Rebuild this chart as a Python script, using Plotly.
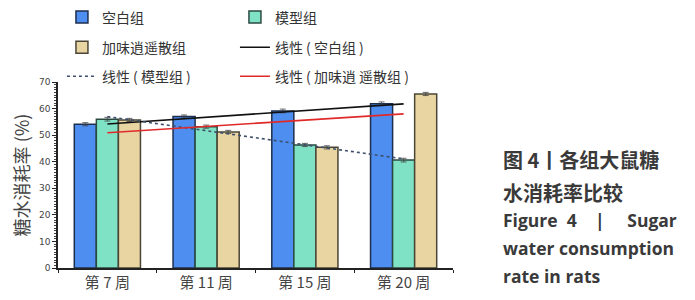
import numpy as np
import plotly.graph_objects as go

categories = ["第 7 周", "第 11 周", "第 15 周", "第 20 周"]
blank = [54.1, 57.0, 59.1, 61.8]
model = [56.0, 53.2, 46.3, 40.6]
herb = [55.7, 51.2, 45.4, 65.5]
blank_err = [0.6, 0.6, 0.7, 0.7]
model_err = [0.7, 0.6, 0.6, 0.7]
herb_err = [0.6, 0.6, 0.6, 0.6]

names = ["空白组", "模型组", "加味逍遥散组"]
trend_names = ["线性 ( 空白组 )", "线性 ( 模型组 )", "线性 ( 加味逍 遥散组 )"]
y_ticks = [0, 10, 20, 30, 40, 50, 60, 70]

NB = "\u00a0"
caption_lines = ["图 4丨各组大鼠糖", "水消耗率比较",
                 "Figure" + NB * 2 + "4" + NB * 4 + "|" + NB * 5 + "Sugar",
                 "water consumption", "rate in rats"]

CJK = "Noto Sans CJK SC, Noto Sans, sans-serif"
EN = "Open Sans, Noto Sans, sans-serif"

def trend(vals):
    xs = np.arange(1, len(vals) + 1)
    k, b = np.polyfit(xs, vals, 1)
    return list(k * xs + b)

fig = go.Figure()
bar_specs = [
    (names[0], blank, blank_err, "#4d8ef0", "#1e2f4d", "legend"),
    (names[1], model, model_err, "#80e2c4", "#2a4a40", "legend"),
    (names[2], herb, herb_err, "#e8d5a2", "#4a4536", "legend2"),
]
for nm, vals, err, fc, lc, lg in bar_specs:
    fig.add_trace(go.Bar(
        x=categories, y=vals, name=nm, legend=lg,
        marker=dict(color=fc, line=dict(color=lc, width=1.5)),
        error_y=dict(type="data", array=err, color="#444", thickness=0.8, width=3),
    ))

line_specs = [
    (trend_names[0], blank, dict(color="#111111", width=1.6), "legend2"),
    (trend_names[1], model, dict(color="#3d4f6b", width=1.6, dash="dot"), "legend3"),
    (trend_names[2], herb, dict(color="#e02a2a", width=1.6), "legend3"),
]
for nm, vals, ln, lg in line_specs:
    fig.add_trace(go.Scatter(x=categories, y=trend(vals), mode="lines", name=nm,
                             line=ln, legend=lg))

def py(ypx):
    return (267.7 - ypx) / 185.4

leg_common = dict(orientation="h", xanchor="left", yanchor="middle", x=0.01,
                  entrywidth=128, bgcolor="rgba(0,0,0,0)",
                  font=dict(family=CJK, size=14, color="#333"), traceorder="normal")

fig.update_layout(
    width=687, height=292,
    margin=dict(l=50, r=242, t=74, b=32, autoexpand=False),
    paper_bgcolor="white", plot_bgcolor="white",
    barmode="group", bargap=0.33, bargroupgap=0,
    showlegend=True,
    legend=dict(**leg_common, y=py(18)),
    legend2=dict(**leg_common, y=py(48)),
    legend3=dict(**leg_common, y=py(77)),
    font=dict(family=CJK, color="#333"),
    xaxis=dict(
        showline=True, linecolor="#222", linewidth=1.5,
        ticks="outside", ticklen=3, tickcolor="#222", tickson="boundaries",
        tickfont=dict(family=CJK, size=15, color="#444"),
        automargin=False,
    ),
    yaxis=dict(
        range=[0, 70], tickvals=y_ticks, showline=True, linecolor="#222", linewidth=1.5,
        ticks="outside", ticklen=4, tickcolor="#222", showgrid=False, zeroline=False,
        minor=dict(dtick=1, ticks="outside", ticklen=2, tickcolor="#444"),
        tickfont=dict(family="DejaVu Sans", size=9, color="#444"),
        title=dict(text="糖水消耗率 (%)", font=dict(family=CJK, size=18, color="#444"), standoff=11),
        automargin=False,
    ),
)

cap_y = [160, 192, 220, 248, 276]
for i, (txt, ypx) in enumerate(zip(caption_lines, cap_y)):
    fam = CJK if i < 2 else EN
    sz = 20 if i < 2 else 17.5
    fig.add_annotation(text=txt, xref="paper", yref="paper", x=(501 - 58) / 395, y=py(ypx),
                       xanchor="left", yanchor="middle", showarrow=False,
                       font=dict(family=fam, size=sz, color="#3a3a3a", weight=700))

fig.write_html("out.html")
